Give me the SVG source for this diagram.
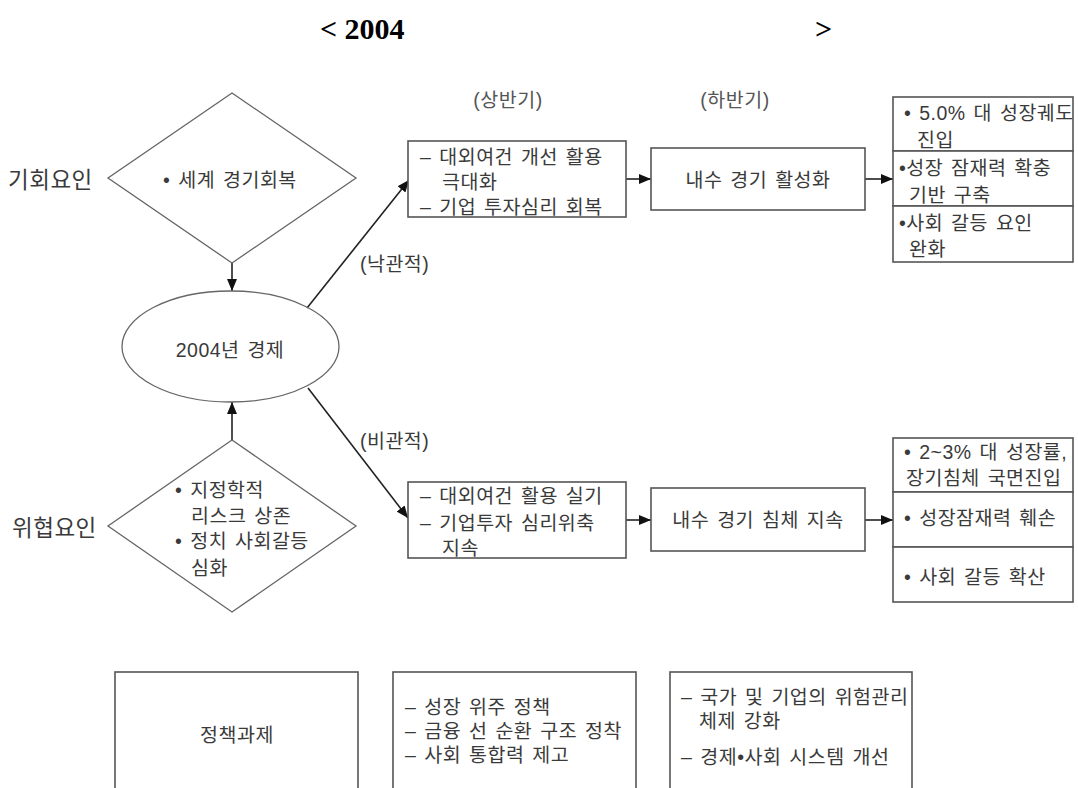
<svg xmlns="http://www.w3.org/2000/svg" width="1078" height="788" viewBox="0 0 1078 788">
<defs>
<marker id="ah" markerUnits="userSpaceOnUse" markerWidth="12" markerHeight="10" refX="12" refY="5" orient="auto">
<path d="M0,0 L12,5 L0,10 z" fill="#111"/>
</marker>
<style>
.t{font-family:"Liberation Sans","Noto Sans CJK KR",sans-serif;font-size:19.5px;fill:#3a3a3a;letter-spacing:0.5px;word-spacing:2px}
.m{text-anchor:middle}
.big{font-size:22.5px;letter-spacing:0.5px}
.hd{fill:#555}
.title{font-family:"Liberation Serif",serif;font-size:30px;font-weight:bold;fill:#000}
.box{fill:#fff;stroke:#555;stroke-width:1.6}
.shp{fill:none;stroke:#666;stroke-width:1.3}
.ln{fill:none;stroke:#222;stroke-width:1.6}
</style>
</defs>
<rect width="1078" height="788" fill="#fff"/>

<g id="title">
<text class="title" x="320" y="39">&lt; 2004</text>
<text class="title" x="815" y="39">&gt;</text>
</g>
<g id="headers">
<text class="t hd m" x="508" y="107">(상반기)</text>
<text class="t hd m" x="735" y="107">(하반기)</text>
</g>

<g id="connectors">
<line class="ln" x1="232" y1="263" x2="232" y2="291" marker-end="url(#ah)"/>
<line class="ln" x1="232" y1="440" x2="232" y2="402" marker-end="url(#ah)"/>
<line class="ln" x1="307" y1="308" x2="409" y2="180" marker-end="url(#ah)"/>
<line class="ln" x1="308" y1="388" x2="408" y2="518" marker-end="url(#ah)"/>
<line class="ln" x1="626" y1="179" x2="651" y2="179" marker-end="url(#ah)"/>
<line class="ln" x1="865" y1="179" x2="893" y2="179" marker-end="url(#ah)"/>
<line class="ln" x1="626" y1="520" x2="651" y2="520" marker-end="url(#ah)"/>
<line class="ln" x1="865" y1="520" x2="893" y2="520" marker-end="url(#ah)"/>
<text class="t" x="360" y="271">(낙관적)</text>
<text class="t" x="360" y="448">(비관적)</text>
</g>

<g id="opportunity">
<text class="t big" x="8" y="188">기회요인</text>
<polygon class="shp" points="232,93 356,178 232,263 108,178"/>
<text class="t" x="163" y="187">• 세계 경기회복</text>
</g>

<g id="economy">
<ellipse class="shp" cx="230.5" cy="346.5" rx="108.5" ry="55.5"/>
<text class="t m" x="230" y="357">2004년 경제</text>
</g>

<g id="threat">
<text class="t big" x="12" y="536">위협요인</text>
<polygon class="shp" points="232,440 356,526 232,612 108,526"/>
<text class="t" x="175" y="497">• 지정학적</text>
<text class="t" x="191" y="523">리스크 상존</text>
<text class="t" x="175" y="548">• 정치 사회갈등</text>
<text class="t" x="191" y="575">심화</text>
</g>

<g id="opt-first">
<rect class="box" x="408" y="141" width="218" height="76"/>
<text class="t" x="420" y="164">– 대외여건 개선 활용</text>
<text class="t" x="442" y="189">극대화</text>
<text class="t" x="420" y="214">– 기업 투자심리 회복</text>
</g>

<g id="opt-second">
<rect class="box" x="651" y="148" width="214" height="62"/>
<text class="t m" x="758" y="187">내수 경기 활성화</text>
</g>

<g id="opt-result">
<rect class="box" x="893" y="97" width="180" height="54"/>
<rect class="box" x="893" y="151" width="180" height="55"/>
<rect class="box" x="893" y="206" width="180" height="56"/>
<text class="t" x="904" y="120">• 5.0% 대 성장궤도</text>
<text class="t" x="917" y="147">진입</text>
<text class="t" x="899" y="175">•성장 잠재력 확충</text>
<text class="t" x="909" y="202">기반 구축</text>
<text class="t" x="899" y="230">•사회 갈등 요인</text>
<text class="t" x="909" y="256">완화</text>
</g>

<g id="pes-first">
<rect class="box" x="408" y="482" width="218" height="76"/>
<text class="t" x="420" y="503">– 대외여건 활용 실기</text>
<text class="t" x="420" y="530">– 기업투자 심리위축</text>
<text class="t" x="442" y="555">지속</text>
</g>

<g id="pes-second">
<rect class="box" x="651" y="488" width="214" height="63"/>
<text class="t m" x="758" y="527">내수 경기 침체 지속</text>
</g>

<g id="pes-result">
<rect class="box" x="893" y="438" width="180" height="54"/>
<rect class="box" x="893" y="492" width="180" height="55"/>
<rect class="box" x="893" y="547" width="180" height="55"/>
<text class="t" x="904" y="459">• 2~3% 대 성장률,</text>
<text class="t" x="906" y="485">장기침체 국면진입</text>
<text class="t" x="904" y="525">• 성장잠재력 훼손</text>
<text class="t" x="904" y="584">• 사회 갈등 확산</text>
</g>

<g id="policy-title">
<rect class="box" x="115" y="672" width="243" height="130"/>
<text class="t m" x="237" y="742">정책과제</text>
</g>

<g id="policy-1">
<rect class="box" x="393" y="672" width="243" height="130"/>
<text class="t" x="405" y="714">– 성장 위주 정책</text>
<text class="t" x="405" y="738">– 금융 선 순환 구조 정착</text>
<text class="t" x="405" y="762">– 사회 통합력 제고</text>
</g>

<g id="policy-2">
<rect class="box" x="670" y="672" width="242" height="130"/>
<text class="t" x="681" y="704">– 국가 및 기업의 위험관리</text>
<text class="t" x="699" y="728">체제 강화</text>
<text class="t" x="681" y="764">– 경제•사회 시스템 개선</text>
</g>
</svg>
